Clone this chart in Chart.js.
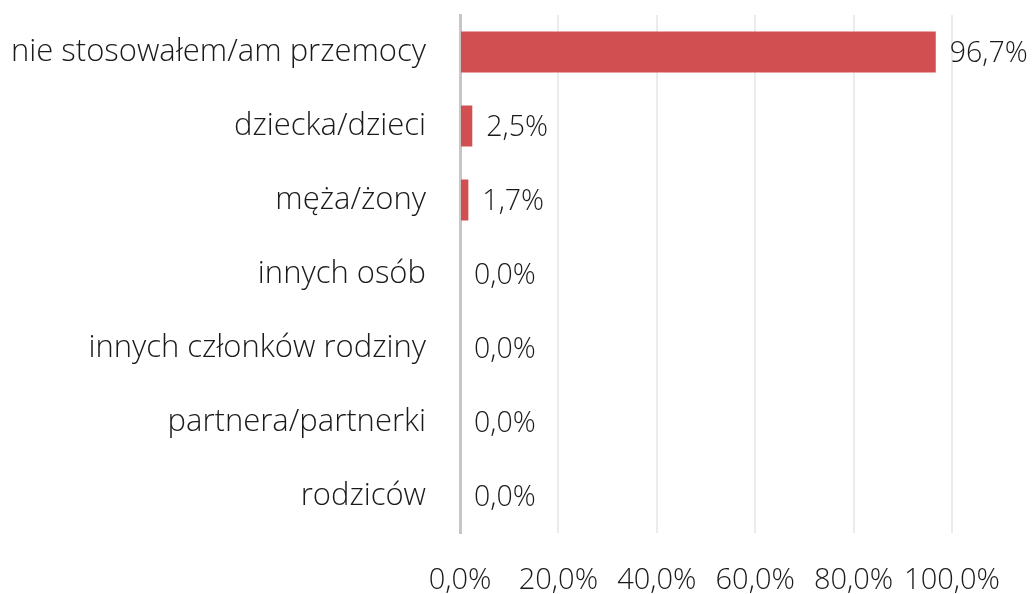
<!DOCTYPE html>
<html>
<head>
<meta charset="utf-8">
<script src="https://cdn.jsdelivr.net/npm/chart.js@4/dist/chart.umd.min.js"></script>
<style>
  html, body { margin: 0; padding: 0; background: #ffffff; }
  canvas { display: block; }
</style>
</head>
<body>
<canvas id="chart" width="1033" height="594"></canvas>
<script>
// Odpowiedzi: wobec kogo stosowano przemoc (%)
const categories = [
  'nie stosowałem/am przemocy',
  'dziecka/dzieci',
  'męża/żony',
  'innych osób',
  'innych członków rodziny',
  'partnera/partnerki',
  'rodziców'
];
const values = [96.7, 2.5, 1.7, 0.0, 0.0, 0.0, 0.0];
const xTicks = [0, 20, 40, 60, 80, 100];

const FONT = '"Open Sans", "Segoe UI", sans-serif';
const TEXT = '#1a1a1a';
const fmt = v => v.toFixed(1).replace('.', ',') + '%';

// Etykiety wartości rysowane za końcem słupka
const valueLabels = {
  id: 'valueLabels',
  afterDatasetsDraw(chart) {
    const ctx = chart.ctx;
    const meta = chart.getDatasetMeta(0);
    ctx.save();
    ctx.font = '300 28.5px ' + FONT;
    ctx.fillStyle = TEXT;
    ctx.textAlign = 'left';
    ctx.textBaseline = 'middle';
    meta.data.forEach((bar, i) => {
      ctx.fillText(fmt(values[i]), bar.x + 14, bar.y + 2);
    });
    ctx.restore();
  }
};

new Chart(document.getElementById('chart'), {
  type: 'bar',
  data: {
    labels: categories,
    datasets: [{
      data: values,
      backgroundColor: '#d14f51',
      borderWidth: 0,
      barPercentage: 41 / 74,
      categoryPercentage: 1
    }]
  },
  options: {
    indexAxis: 'y',
    responsive: false,
    animation: false,
    devicePixelRatio: 1,
    layout: { padding: { top: 15, right: 81, bottom: 0, left: 0 } },
    plugins: {
      legend: { display: false },
      tooltip: { enabled: false }
    },
    scales: {
      x: {
        min: 0,
        max: 100,
        afterBuildTicks(scale) {
          scale.ticks = xTicks.map(v => ({ value: v }));
        },
        afterFit(scale) { scale.height = 61; },
        grid: { color: '#ebebeb', lineWidth: 2, drawTicks: false },
        border: { display: false },
        ticks: {
          padding: 30,
          color: TEXT,
          font: { family: FONT, size: 29, weight: 300 },
          maxRotation: 0,
          autoSkip: false,
          callback: v => fmt(v)
        }
      },
      y: {
        afterFit(scale) {
          scale.width = 460;
          scale.paddingTop = 0;
          scale.paddingBottom = 0;
        },
        grid: { display: false, drawTicks: false },
        border: { display: true, color: '#c6c6c6', width: 3 },
        ticks: {
          padding: 34,
          color: TEXT,
          font: { family: FONT, size: 31, weight: 300 }
        }
      }
    }
  },
  plugins: [valueLabels]
});
</script>
</body>
</html>
